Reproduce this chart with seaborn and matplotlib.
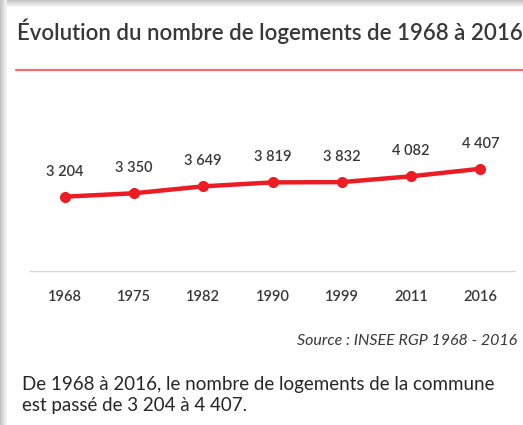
import matplotlib
matplotlib.use("Agg")
import matplotlib.pyplot as plt
import seaborn as sns
import pandas as pd
from matplotlib.patches import Rectangle
from matplotlib.lines import Line2D

years = ["1968", "1975", "1982", "1990", "1999", "2011", "2016"]
logements = [3204, 3350, 3649, 3819, 3832, 4082, 4407]
labels = ["3 204", "3 350", "3 649", "3 819", "3 832", "4 082", "4 407"]
title = "Évolution du nombre de logements de 1968 à 2016"
source = "Source : INSEE RGP 1968 - 2016"
comment = "De 1968 à 2016, le nombre de logements de la commune\nest passé de 3 204 à 4 407."

sns.set_theme(style="white")
plt.rcParams["font.family"] = ["Lato", "DejaVu Sans"]

W, H = 523, 425
fig = plt.figure(figsize=(W / 100, H / 100), dpi=100)
fig.patch.set_facecolor("white")

def fx(x):
    return x / W

def fy(y):
    return 1 - y / H

# frame shadow
shades = ["#c4c4c4", "#cdcdcd", "#d6d6d6", "#dedede", "#e6e6e6", "#eeeeee", "#f5f5f5"]
for i, c in enumerate(shades):
    fig.patches.append(Rectangle((fx(i), 0), fx(1), 1, transform=fig.transFigure,
                                 facecolor=c, edgecolor="none", zorder=-10))
    fig.patches.append(Rectangle((fx(i), fy(i + 1)), 1, fy(0) - fy(1), transform=fig.transFigure,
                                 facecolor=c, edgecolor="none", zorder=-10))
fig.patches.append(Rectangle((fx(7), 0), 1, fy(7), transform=fig.transFigure,
                             facecolor="white", edgecolor="none", zorder=-9))

fig.text(fx(17), fy(31), title, fontsize=16, color="#383838", va="center", ha="left",
         fontweight="semibold")
fig.lines.append(Line2D([fx(16), fx(523)], [fy(70), fy(70)], transform=fig.transFigure,
                        color="#f07070", lw=1.6))

# axes: x from 30 to 515, y from 155 (5000) to 271 (0)
ax = fig.add_axes([fx(30), fy(271), fx(515) - fx(30), fy(155) - fy(271)])
ax.set_zorder(2)
ax.set_facecolor("none")
df = pd.DataFrame({"annee": years, "logements": logements})
sns.lineplot(data=df, x="annee", y="logements", ax=ax, color="#ec1c24", lw=3.2,
             marker="o", markersize=8, markeredgewidth=0, sort=False)
ax.set_xlim(-0.5, len(years) - 0.5)
ax.set_ylim(0, 5000)
for i, (v, lab) in enumerate(zip(logements, labels)):
    ax.annotate(lab, (i, v), xytext=(0, 18), textcoords="offset points",
                ha="center", va="center", fontsize=10.5, color="#383838",
                fontweight="semibold")
for s in ["top", "right", "left"]:
    ax.spines[s].set_visible(False)
ax.spines["bottom"].set_color("#d9d9d9")
ax.spines["bottom"].set_linewidth(1)
ax.set_yticks([])
ax.set_xticks(range(len(years)))
ax.set_xticklabels(years, fontsize=10.5, color="#383838", fontweight="semibold")
ax.tick_params(axis="x", length=0, pad=14)
ax.set_xticks([i - 0.5 for i in range(len(years) + 1)], minor=True)
ax.tick_params(axis="x", which="minor", length=5, color="#d9d9d9", width=1, direction="out")
ax.set_xlabel("")
ax.set_ylabel("")
ax.grid(False)

fig.text(fx(517), fy(341), source, fontsize=11.5, style="italic", color="#383838",
         ha="right", va="center")
fig.text(fx(22), fy(395), comment, fontsize=13.5, color="#262626", ha="left", va="center",
         linespacing=1.25)

fig.savefig("out.png", dpi=100)
